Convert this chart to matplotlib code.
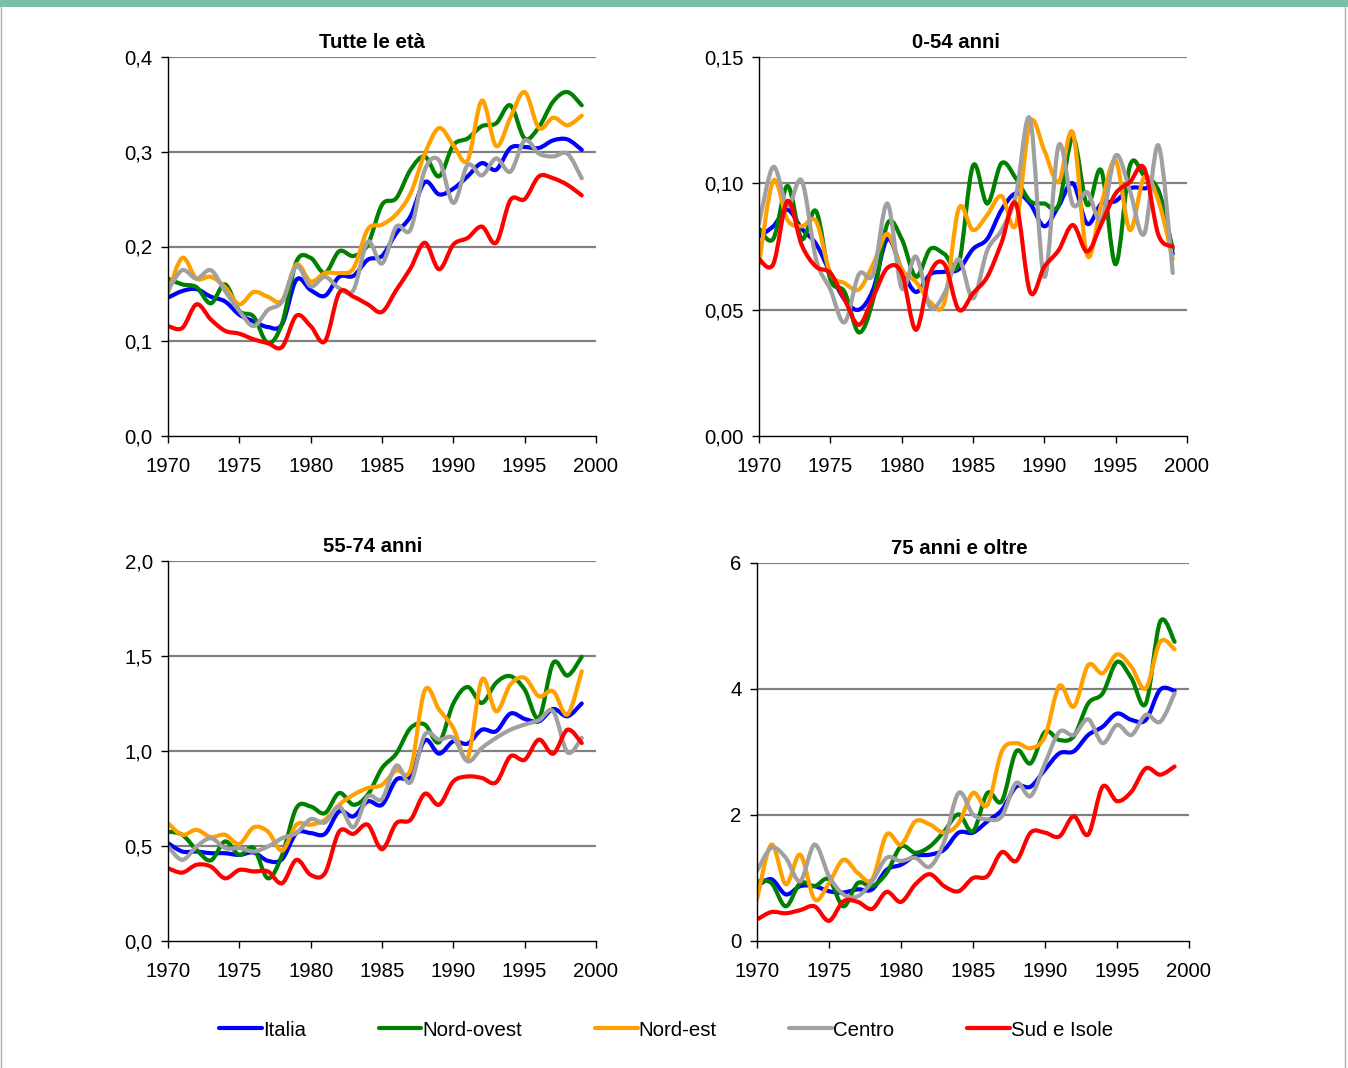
import matplotlib
matplotlib.use("Agg")
import matplotlib.pyplot as plt
from matplotlib.path import Path
from matplotlib.patches import PathPatch, Rectangle
from matplotlib.lines import Line2D
import numpy as np

plt.rcParams['font.family'] = ['Liberation Sans', 'DejaVu Sans']

years = list(range(1970, 2000))
series_names = ["Italia", "Nord-ovest", "Nord-est", "Centro", "Sud e Isole"]
series_colors = ["#0000FF", "#008000", "#FFA000", "#A0A0A0", "#FF0000"]

# --- Tutte le età ---
tutte_italia = [0.146, 0.153, 0.155, 0.147, 0.142, 0.128, 0.121, 0.115, 0.118, 0.165,
                0.154, 0.148, 0.168, 0.169, 0.186, 0.190, 0.214, 0.232, 0.268, 0.255,
                0.261, 0.274, 0.288, 0.281, 0.304, 0.305, 0.304, 0.312, 0.313, 0.302]
tutte_nordovest = [0.166, 0.160, 0.157, 0.140, 0.160, 0.132, 0.126, 0.098, 0.119, 0.184,
                   0.188, 0.172, 0.195, 0.190, 0.202, 0.244, 0.251, 0.281, 0.295, 0.274,
                   0.307, 0.314, 0.327, 0.330, 0.349, 0.314, 0.326, 0.353, 0.363, 0.349]
tutte_nordest = [0.151, 0.188, 0.166, 0.168, 0.157, 0.139, 0.152, 0.147, 0.143, 0.181,
                 0.163, 0.172, 0.172, 0.177, 0.218, 0.223, 0.234, 0.256, 0.298, 0.325,
                 0.307, 0.291, 0.354, 0.306, 0.336, 0.363, 0.325, 0.336, 0.328, 0.338]
tutte_centro = [0.154, 0.175, 0.166, 0.175, 0.153, 0.132, 0.116, 0.133, 0.142, 0.179,
                0.158, 0.168, 0.156, 0.154, 0.205, 0.182, 0.221, 0.218, 0.281, 0.291,
                0.246, 0.286, 0.275, 0.293, 0.279, 0.312, 0.298, 0.295, 0.298, 0.272]
tutte_sud = [0.116, 0.114, 0.139, 0.123, 0.111, 0.108, 0.102, 0.098, 0.094, 0.127,
             0.116, 0.100, 0.151, 0.147, 0.139, 0.131, 0.154, 0.177, 0.204, 0.176,
             0.202, 0.209, 0.221, 0.204, 0.249, 0.250, 0.274, 0.272, 0.265, 0.254]

# --- 0-54 anni ---
a054_italia = [0.079, 0.083, 0.0895, 0.082, 0.076, 0.0645, 0.054, 0.050, 0.058, 0.078,
               0.066, 0.057, 0.064, 0.065, 0.066, 0.074, 0.078, 0.0895, 0.096, 0.092,
               0.083, 0.091, 0.100, 0.084, 0.092, 0.093, 0.098, 0.098, 0.097, 0.072]
a054_nordovest = [0.082, 0.078, 0.099, 0.078, 0.089, 0.062, 0.057, 0.041, 0.054, 0.084,
                  0.078, 0.063, 0.074, 0.072, 0.068, 0.107, 0.092, 0.108, 0.102, 0.093,
                  0.092, 0.0915, 0.118, 0.0915, 0.105, 0.068, 0.107, 0.103, 0.097, 0.074]
a054_nordest = [0.068, 0.101, 0.0855, 0.083, 0.085, 0.0645, 0.0605, 0.058, 0.068, 0.080,
                0.066, 0.061, 0.053, 0.053, 0.090, 0.0815, 0.0875, 0.095, 0.0835, 0.124,
                0.113, 0.1005, 0.120, 0.0715, 0.092, 0.109, 0.0815, 0.1025, 0.093, 0.070]
a054_centro = [0.084, 0.1065, 0.091, 0.101, 0.070, 0.058, 0.045, 0.064, 0.064, 0.092,
               0.0585, 0.071, 0.051, 0.0565, 0.070, 0.0545, 0.0735, 0.0815, 0.095, 0.1255,
               0.063, 0.115, 0.0915, 0.0965, 0.0855, 0.111, 0.097, 0.080, 0.115, 0.0645]
a054_sud = [0.070, 0.068, 0.093, 0.0755, 0.067, 0.0645, 0.054, 0.044, 0.055, 0.0665,
            0.0645, 0.042, 0.0645, 0.068, 0.050, 0.0565, 0.063, 0.0765, 0.092, 0.057,
            0.067, 0.0735, 0.0835, 0.073, 0.084, 0.096, 0.1005, 0.106, 0.0795, 0.075]

# --- 55-74 anni ---
a5574_italia = [0.515, 0.471, 0.471, 0.462, 0.462, 0.453, 0.466, 0.422, 0.431, 0.568,
                0.568, 0.564, 0.682, 0.656, 0.735, 0.717, 0.849, 0.866, 1.056, 0.986,
                1.051, 1.039, 1.112, 1.104, 1.197, 1.169, 1.156, 1.221, 1.183, 1.250]
a5574_nordovest = [0.576, 0.559, 0.480, 0.424, 0.524, 0.453, 0.489, 0.330, 0.453, 0.700,
                   0.708, 0.673, 0.779, 0.717, 0.770, 0.910, 0.986, 1.121, 1.139, 1.046,
                   1.250, 1.337, 1.253, 1.359, 1.394, 1.323, 1.174, 1.464, 1.397, 1.496]
a5574_nordest = [0.620, 0.559, 0.585, 0.547, 0.559, 0.511, 0.598, 0.576, 0.476, 0.612,
                 0.612, 0.638, 0.717, 0.770, 0.805, 0.822, 0.898, 0.902, 1.320, 1.218,
                 1.121, 0.963, 1.376, 1.209, 1.350, 1.385, 1.288, 1.315, 1.192, 1.420]
a5574_centro = [0.497, 0.427, 0.497, 0.541, 0.489, 0.489, 0.471, 0.497, 0.541, 0.568,
                0.641, 0.624, 0.708, 0.599, 0.761, 0.747, 0.923, 0.835, 1.086, 1.060,
                1.069, 0.946, 1.016, 1.069, 1.112, 1.139, 1.162, 1.209, 0.993, 1.069]
a5574_sud = [0.383, 0.360, 0.401, 0.392, 0.330, 0.374, 0.366, 0.366, 0.304, 0.427,
             0.348, 0.357, 0.576, 0.564, 0.612, 0.483, 0.620, 0.638, 0.775, 0.717,
             0.840, 0.866, 0.858, 0.835, 0.972, 0.954, 1.060, 0.986, 1.112, 1.042]

# --- 75 anni e oltre ---
a75_italia = [0.87, 0.98, 0.74, 0.87, 0.87, 0.79, 0.77, 0.82, 0.82, 1.13,
              1.21, 1.35, 1.37, 1.45, 1.72, 1.72, 1.90, 2.08, 2.45, 2.45,
              2.72, 2.98, 3.01, 3.27, 3.40, 3.61, 3.51, 3.51, 3.99, 3.97]
a75_nordovest = [0.95, 0.92, 0.55, 0.92, 0.87, 0.98, 0.55, 0.92, 0.87, 1.08,
                 1.50, 1.40, 1.50, 1.74, 2.01, 1.74, 2.35, 2.22, 3.01, 2.82,
                 3.32, 3.19, 3.25, 3.77, 3.93, 4.43, 4.17, 3.77, 5.07, 4.75]
a75_nordest = [0.66, 1.53, 0.90, 1.37, 0.66, 0.92, 1.29, 1.08, 0.98, 1.69,
               1.53, 1.90, 1.85, 1.72, 1.87, 2.35, 2.16, 3.01, 3.14, 3.06,
               3.25, 4.05, 3.72, 4.38, 4.25, 4.55, 4.35, 4.01, 4.75, 4.63]
a75_centro = [1.11, 1.48, 1.32, 0.95, 1.53, 1.03, 0.74, 0.71, 0.95, 1.32,
              1.27, 1.32, 1.18, 1.58, 2.35, 2.01, 1.93, 1.98, 2.51, 2.30,
              2.82, 3.32, 3.27, 3.52, 3.14, 3.43, 3.27, 3.59, 3.48, 3.93]
a75_sud = [0.34, 0.46, 0.44, 0.49, 0.55, 0.32, 0.63, 0.62, 0.51, 0.78,
           0.62, 0.90, 1.06, 0.87, 0.79, 1.00, 1.03, 1.41, 1.27, 1.72,
           1.72, 1.66, 1.98, 1.69, 2.45, 2.22, 2.37, 2.74, 2.64, 2.77]

panel_titles = ["Tutte le età", "0-54 anni", "55-74 anni", "75 anni e oltre"]
panel_series = [
    [tutte_italia, tutte_nordovest, tutte_nordest, tutte_centro, tutte_sud],
    [a054_italia, a054_nordovest, a054_nordest, a054_centro, a054_sud],
    [a5574_italia, a5574_nordovest, a5574_nordest, a5574_centro, a5574_sud],
    [a75_italia, a75_nordovest, a75_nordest, a75_centro, a75_sud],
]
panel_yticks = [
    [0.0, 0.1, 0.2, 0.3, 0.4],
    [0.0, 0.05, 0.10, 0.15],
    [0.0, 0.5, 1.0, 1.5, 2.0],
    [0, 2, 4, 6],
]
panel_yticklabels = [
    ["0,0", "0,1", "0,2", "0,3", "0,4"],
    ["0,00", "0,05", "0,10", "0,15"],
    ["0,0", "0,5", "1,0", "1,5", "2,0"],
    ["0", "2", "4", "6"],
]
xticks = [1970, 1975, 1980, 1985, 1990, 1995, 2000]
xticklabels = ["1970", "1975", "1980", "1985", "1990", "1995", "2000"]

W, H = 1348, 1068
fig = plt.figure(figsize=(W / 100, H / 100), dpi=100)

# axes rectangles in pixel coordinates: left, right, top, bottom
boxes = [
    (168, 596, 57, 436),
    (759, 1187, 57, 436),
    (168, 596, 561, 941),
    (757, 1189, 563, 941),
]
# horizontal centre of each title, as a fraction of the axes width
title_x = [0.477, 0.460, 0.479, 0.468]

FS = 14.7


def smooth_path(x, y):
    """Bezier path through the points, with control points from neighbours."""
    x = np.asarray(x, float)
    y = np.asarray(y, float)
    n = len(x)
    verts = [(x[0], y[0])]
    codes = [Path.MOVETO]
    for i in range(n - 1):
        p0 = np.array([x[max(i - 1, 0)], y[max(i - 1, 0)]])
        p1 = np.array([x[i], y[i]])
        p2 = np.array([x[i + 1], y[i + 1]])
        p3 = np.array([x[min(i + 2, n - 1)], y[min(i + 2, n - 1)]])
        c1 = p1 + (p2 - p0) / 6.0
        c2 = p2 - (p3 - p1) / 6.0
        verts += [tuple(c1), tuple(c2), tuple(p2)]
        codes += [Path.CURVE4] * 3
    return Path(verts, codes)


for k, (l, r, t, b) in enumerate(boxes):
    ax = fig.add_axes([l / W, 1 - b / H, (r - l) / W, (b - t) / H])
    yt = panel_yticks[k]
    ax.set_xlim(1970, 2000)
    ax.set_ylim(yt[0], yt[-1])
    for v in yt[1:]:
        ax.axhline(v, color="#808080", lw=1.6, zorder=1)
    for s, c in zip(panel_series[k], series_colors):
        patch = PathPatch(smooth_path(years, s), facecolor="none", edgecolor=c,
                          lw=3.0, capstyle="round", joinstyle="round", zorder=3)
        ax.add_patch(patch)
    ax.set_yticks(yt)
    ax.set_yticklabels(panel_yticklabels[k])
    ax.set_xticks(xticks)
    ax.set_xticklabels(xticklabels)
    for sp in ["top", "right"]:
        ax.spines[sp].set_visible(False)
    for sp in ["left", "bottom"]:
        ax.spines[sp].set_color("black")
        ax.spines[sp].set_linewidth(1.0)
        ax.spines[sp].set_zorder(4)
    ax.tick_params(axis="both", direction="out", length=5, width=1.0,
                   labelsize=FS, colors="black")
    ax.tick_params(axis="y", pad=6)
    ax.tick_params(axis="x", pad=10)
    ax.text(title_x[k], 1.0 + 14 / (b - t), panel_titles[k], transform=ax.transAxes,
            ha="center", va="center", fontsize=FS, fontweight="bold")

handles = [Line2D([], [], color=c, lw=3.0, solid_capstyle="round") for c in series_colors]
fig.legend(handles, series_names, loc="center", bbox_to_anchor=(0.494, 1 - 1030 / H),
           ncol=5, frameon=False, fontsize=FS, handlelength=2.1, handletextpad=0.05,
           columnspacing=3.55)

# teal band at the top and thin frame around the page
fig.patches.append(Rectangle((0, 1 - 7 / H), 1, 7 / H, transform=fig.transFigure,
                             facecolor="#7BBEA8", edgecolor="none", zorder=0))
fig.add_artist(Line2D([0.5 / W, 0.5 / W], [0, 1 - 7 / H], transform=fig.transFigure,
                      color="#B0B0B0", lw=1.0))
fig.add_artist(Line2D([1345 / W, 1345 / W], [0, 1 - 7 / H], transform=fig.transFigure,
                      color="#B0B0B0", lw=1.0))

fig.savefig("out.png", dpi=100)
